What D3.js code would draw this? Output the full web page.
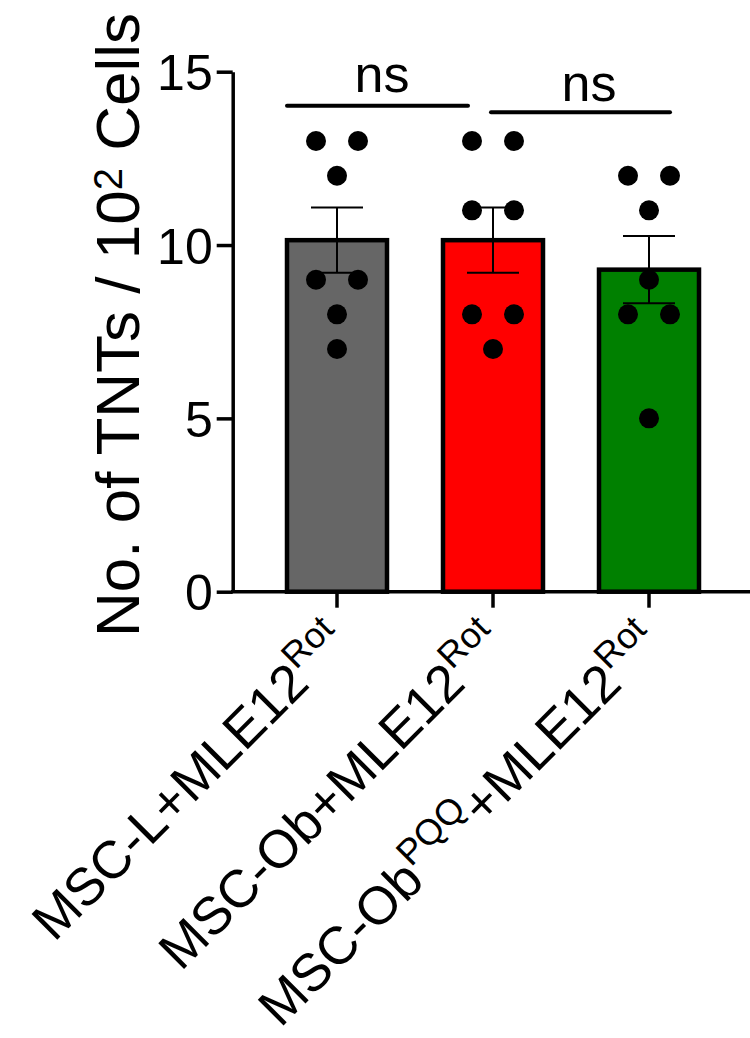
<!DOCTYPE html>
<html>
<head>
<meta charset="utf-8">
<script src="https://cdn.jsdelivr.net/npm/d3@7"></script>
<style>
  body { margin: 0; background: #fff; }
  text { font-family: "Liberation Sans", Arial, sans-serif; fill: #000; }
</style>
</head>
<body>
<svg id="chart" width="750" height="1038"></svg>
<script>
// groups along the x axis
var groups = ["L", "Ob", "ObPQQ"];
var labelMain = [["MSC-L+MLE12"], ["MSC-Ob+MLE12"], ["MSC-Ob", "+MLE12"]];
var labelSup  = [["Rot"], ["Rot"], ["PQQ", "Rot"]];
var colors = ["#666666", "#ff0000", "#008000"];

// individual points
var pointsL     = [13, 13, 12, 9, 9, 8, 7];
var pointsOb    = [13, 13, 11, 11, 8, 8, 7];
var pointsObPQQ = [12, 12, 11, 9, 8, 8, 5];

// bar heights (mean) and error (SEM)
var means = [10.14, 10.14, 9.29];
var sems  = [0.94, 0.94, 0.97];

var yTicks = [0, 5, 10, 15];

var svg = d3.select("#chart");

var y = d3.scaleLinear().domain([0, 15]).range([591.7, 71.7]);
var x = d3.scaleBand().domain(groups).range([259, 727]).paddingInner(0.359).paddingOuter(0.1795);
var bw = x.bandwidth();
var cx = function(g){ return x(g) + bw / 2; };

// bars
svg.selectAll("rect.bar")
  .data(groups)
  .enter()
  .append("rect")
  .attr("class", "bar")
  .attr("x", function(g){ return x(g); })
  .attr("y", function(g, i){ return y(means[i]); })
  .attr("width", bw)
  .attr("height", function(g, i){ return y(0) - y(means[i]); })
  .attr("fill", function(g, i){ return colors[i]; })
  .attr("stroke", "#000")
  .attr("stroke-width", 4.5);

// error bars
var eb = svg.selectAll("g.err")
  .data(groups)
  .enter()
  .append("g")
  .attr("class", "err")
  .attr("stroke", "#000")
  .attr("stroke-width", 2);
eb.append("line")
  .attr("x1", cx).attr("x2", cx)
  .attr("y1", function(g, i){ return y(means[i] + sems[i]); })
  .attr("y2", function(g, i){ return y(means[i] - sems[i]); });
eb.append("line")
  .attr("x1", function(g){ return cx(g) - 26; })
  .attr("x2", function(g){ return cx(g) + 26; })
  .attr("y1", function(g, i){ return y(means[i] + sems[i]); })
  .attr("y2", function(g, i){ return y(means[i] + sems[i]); });
eb.append("line")
  .attr("x1", function(g){ return cx(g) - 26; })
  .attr("x2", function(g){ return cx(g) + 26; })
  .attr("y1", function(g, i){ return y(means[i] - sems[i]); })
  .attr("y2", function(g, i){ return y(means[i] - sems[i]); });

// scatter points, equal values placed side by side
var allPoints = [pointsL, pointsOb, pointsObPQQ];
var dots = [];
allPoints.forEach(function(pts, gi){
  var counts = d3.rollup(pts, function(v){ return v.length; }, function(v){ return v; });
  var seen = new Map();
  pts.forEach(function(v){
    var n = counts.get(v), k = seen.get(v) || 0;
    seen.set(v, k + 1);
    var off = n === 1 ? 0 : (k === 0 ? -21 : 21);
    dots.push({ g: groups[gi], v: v, off: off });
  });
});
svg.selectAll("circle.dot")
  .data(dots)
  .enter()
  .append("circle")
  .attr("class", "dot")
  .attr("cx", function(d){ return cx(d.g) + d.off; })
  .attr("cy", function(d){ return y(d.v); })
  .attr("r", 10)
  .attr("fill", "#000");

// y axis
var yAxis = svg.append("g")
  .attr("transform", "translate(232.7,0)")
  .call(d3.axisLeft(y).tickValues(yTicks).tickSize(16).tickSizeOuter(0).tickPadding(4));
yAxis.select(".domain").attr("stroke-width", 3.5);
yAxis.selectAll(".tick line").attr("stroke-width", 3.5);
yAxis.selectAll(".tick text")
  .style("font-size", "50px")
  .attr("dy", "0.36em")
  .style("font-family", "Liberation Sans, Arial, sans-serif");

// x axis
var xAxis = svg.append("g")
  .attr("transform", "translate(0," + y(0) + ")")
  .call(d3.axisBottom(x).tickSize(16).tickSizeOuter(0).tickFormat(""));
xAxis.select(".domain").remove();
xAxis.selectAll(".tick line").attr("stroke-width", 3.5);
xAxis.append("line")
  .attr("x1", 231).attr("x2", 750)
  .attr("stroke", "#000").attr("stroke-width", 3.5);

// rotated x labels with superscripts
groups.forEach(function(g, i){
  var t = svg.append("text")
    .attr("transform", "translate(" + (cx(g) + 14) + ",646) rotate(-45)")
    .attr("text-anchor", "end")
    .style("font-size", "53px");
  labelMain[i].forEach(function(m, j){
    t.append("tspan").text(m).attr("dy", j === 0 ? 0 : "0.42em").style("font-size", "53px");
    t.append("tspan").text(labelSup[i][j]).attr("dy", "-0.6em").style("font-size", "36px");
  });
});

// y label
var yl = svg.append("text")
  .attr("transform", "translate(139,325) rotate(-90)")
  .attr("text-anchor", "middle")
  .style("font-size", "62px");
yl.append("tspan").text("No. of TNTs / 10");
yl.append("tspan").text("2").attr("dy", "-0.42em").style("font-size", "40px");
yl.append("tspan").text(" Cells").attr("dy", "0.27em");

// significance
var sig = [
  { a: 0, b: 1, x1: 0, x2: 25, level: 14.02, tx: 382, ty: 92 },
  { a: 1, b: 2, x1: 48, x2: 71, level: 13.83, tx: 589, ty: 101 }
];
sig.forEach(function(s){
  svg.append("line")
    .attr("x1", x(groups[s.a]) + s.x1)
    .attr("x2", x(groups[s.b]) + s.x2)
    .attr("y1", y(s.level)).attr("y2", y(s.level))
    .attr("stroke", "#000").attr("stroke-width", 4)
    .attr("stroke-linecap", "round");
  svg.append("text")
    .attr("x", s.tx).attr("y", s.ty)
    .attr("text-anchor", "middle")
    .style("font-size", "52px")
    .text("ns");
});
</script>
</body>
</html>
